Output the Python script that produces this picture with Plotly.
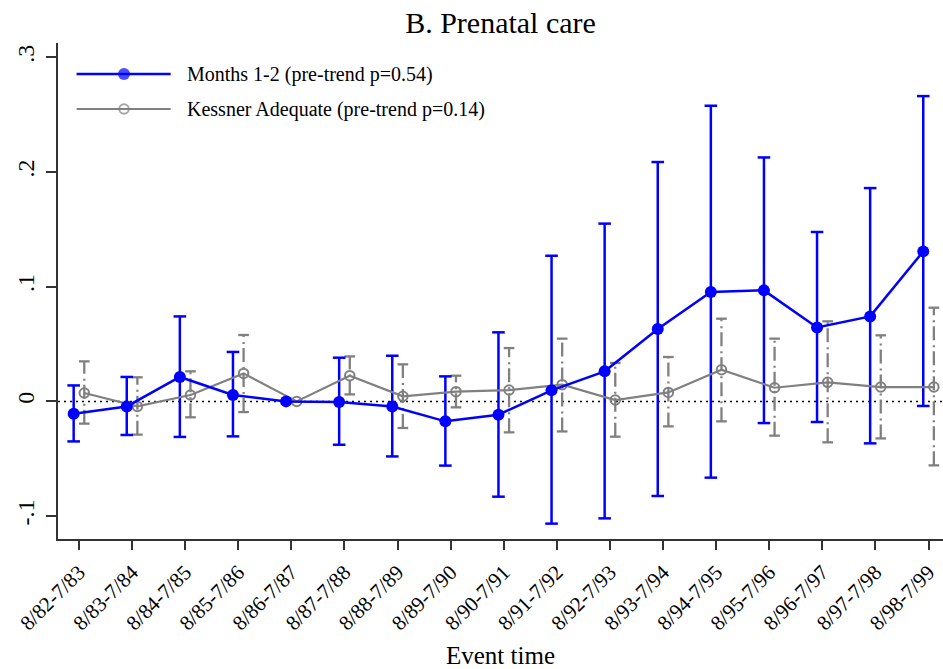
import plotly.graph_objects as go

# Event-time windows (school years, August to July)
periods = ["8/82-7/83", "8/83-7/84", "8/84-7/85", "8/85-7/86", "8/86-7/87",
           "8/87-7/88", "8/88-7/89", "8/89-7/90", "8/90-7/91", "8/91-7/92",
           "8/92-7/93", "8/93-7/94", "8/94-7/95", "8/95-7/96", "8/96-7/97",
           "8/97-7/98", "8/98-7/99"]

# Months 1-2 prenatal care: point estimates and 95% CI bounds (8/86-7/87 is the reference year)
m12_est = [-0.0107, -0.0044, 0.0213, 0.0056, 0.0, -0.0005, -0.0044, -0.0174, -0.0116,
           0.0096, 0.0262, 0.0631, 0.0954, 0.0968, 0.0645, 0.0741, 0.1308]
m12_lo = [-0.0349, -0.0293, -0.0310, -0.0305, None, -0.0378, -0.0480, -0.0560, -0.0831,
          -0.1066, -0.1020, -0.0825, -0.0665, -0.0189, -0.0180, -0.0366, -0.0040]
m12_hi = [0.0139, 0.0213, 0.0741, 0.0431, None, 0.0381, 0.0398, 0.0218, 0.0602,
          0.1270, 0.1550, 0.2087, 0.2578, 0.2127, 0.1477, 0.1860, 0.2662]

# Kessner adequate prenatal care
kes_est = [0.0073, -0.0044, 0.0056, 0.0244, 0.0, 0.0224, 0.0044, 0.0085, 0.0099,
           0.0146, 0.0012, 0.0078, 0.0276, 0.0119, 0.0166, 0.0125, 0.0125]
kes_lo = [-0.0194, -0.0290, -0.0139, -0.0093, None, 0.0061, -0.0232, -0.0052, -0.0270,
          -0.0262, -0.0308, -0.0218, -0.0174, -0.0299, -0.0357, -0.0323, -0.0558]
kes_hi = [0.0349, 0.0210, 0.0262, 0.0579, None, 0.0392, 0.0323, 0.0224, 0.0465,
          0.0547, 0.0335, 0.0387, 0.0721, 0.0547, 0.0698, 0.0576, 0.0817]

legend_labels = ["Months 1-2 (pre-trend p=0.54)", "Kessner Adequate (pre-trend p=0.14)"]

BLUE = "#0000ff"
GRAY = "#808080"
FONT = "Liberation Serif"
SHIFT = 0.1  # horizontal dodge between the two series

idx = list(range(len(periods)))
x_m12 = [i - SHIFT for i in idx]
x_kes = [i + SHIFT for i in idx]


def ci_segments(xs, lo, hi):
    """Vertical CI segments separated by gaps, plus cap positions."""
    sx, sy, cx, cy = [], [], [], []
    for x, a, b in zip(xs, lo, hi):
        if a is None or b is None:
            continue
        sx += [x, x, None]
        sy += [a, b, None]
        cx += [x, x]
        cy += [a, b]
    return sx, sy, cx, cy


fig = go.Figure()

# Kessner CIs (dash-dot) and caps
sx, sy, cx, cy = ci_segments(x_kes, kes_lo, kes_hi)
fig.add_trace(go.Scatter(x=sx, y=sy, mode="lines", hoverinfo="skip",
                         line=dict(color=GRAY, width=2.3, dash="14px,4px,2px,5px"),
                         showlegend=False))
fig.add_trace(go.Scatter(x=cx, y=cy, mode="markers", hoverinfo="skip",
                         marker=dict(symbol="line-ew", size=7.6,
                                     line=dict(color=GRAY, width=2.3)),
                         showlegend=False))

# Months 1-2 CIs and caps
sx, sy, cx, cy = ci_segments(x_m12, m12_lo, m12_hi)
fig.add_trace(go.Scatter(x=sx, y=sy, mode="lines", hoverinfo="skip",
                         line=dict(color=BLUE, width=2.5), showlegend=False))
fig.add_trace(go.Scatter(x=cx, y=cy, mode="markers", hoverinfo="skip",
                         marker=dict(symbol="line-ew", size=9,
                                     line=dict(color=BLUE, width=2.5)),
                         showlegend=False))

# Point estimates
fig.add_trace(go.Scatter(x=x_kes, y=kes_est, mode="lines+markers", name=legend_labels[1],
                         line=dict(color=GRAY, width=2.2),
                         marker=dict(symbol="circle-open", size=9.5,
                                     line=dict(color=GRAY, width=2)),
                         showlegend=False))
fig.add_trace(go.Scatter(x=x_m12, y=m12_est, mode="lines+markers", name=legend_labels[0],
                         line=dict(color=BLUE, width=2.5),
                         marker=dict(symbol="circle", size=12, color=BLUE,
                                     line=dict(width=0)),
                         showlegend=False))

# Key drawn inside the plot area on a hidden unit-square overlay
key_x = [0.021, 0.0746, 0.1273]
key_rows = [0.9375, 0.8669]
key_styles = [
    dict(line=dict(color=BLUE, width=2.5),
         marker=dict(symbol="circle", size=[0, 12, 0], color=BLUE, line=dict(width=0))),
    dict(line=dict(color=GRAY, width=2.2),
         marker=dict(symbol="circle-open", size=[0, 9.5, 0], line=dict(color=GRAY, width=2))),
]
for row, style, label in zip(key_rows, key_styles, legend_labels):
    fig.add_trace(go.Scatter(x=key_x, y=[row] * 3, mode="lines+markers",
                             xaxis="x2", yaxis="y2", hoverinfo="skip",
                             showlegend=False, **style))
    fig.add_annotation(x=0.1435, y=row, xref="paper", yref="paper", text=label,
                       showarrow=False, xanchor="left", yanchor="middle",
                       font=dict(family=FONT, size=20, color="black"))

# Dotted zero reference line
fig.add_shape(type="line", xref="paper", x0=0, x1=1, yref="y", y0=0, y1=0,
              line=dict(color="black", width=1.5, dash="2px,4px"), layer="below")

axis_line = dict(showline=True, linecolor="#333333", linewidth=1.5, ticks="outside",
                 tickcolor="#333333", tickwidth=1.5, showgrid=False, zeroline=False)

fig.update_layout(
    width=943, height=669,
    margin=dict(l=58, r=0, t=43, b=130),
    paper_bgcolor="white", plot_bgcolor="white",
    font=dict(family=FONT, color="black"),
    title=dict(text="B. Prenatal care", x=0.5, xref="paper", xanchor="center",
               y=1 - 22 / 669, yref="container", yanchor="middle",
               font=dict(family=FONT, size=30, color="black")),
    xaxis=dict(range=[-0.395, 16.272], tickmode="array", tickvals=idx, ticktext=periods,
               tickangle=-45, ticklen=9, ticklabelstandoff=2,
               tickfont=dict(family=FONT, size=21, color="black"),
               title=dict(text="Event time", standoff=12,
                          font=dict(family=FONT, size=25, color="black")),
               **axis_line),
    yaxis=dict(range=[-0.12, 0.3125], tickmode="array",
               tickvals=[-0.1, 0, 0.1, 0.2, 0.3], ticktext=["-.1", "0", ".1", ".2", ".3"],
               tickangle=-90, ticklen=10, ticklabelstandoff=3,
               tickfont=dict(family=FONT, size=24, color="black"),
               **axis_line),
    xaxis2=dict(overlaying="x", anchor="y2", range=[0, 1], visible=False),
    yaxis2=dict(overlaying="y", anchor="x2", range=[0, 1], visible=False),
    showlegend=False,
)

fig.write_html("out.html")
